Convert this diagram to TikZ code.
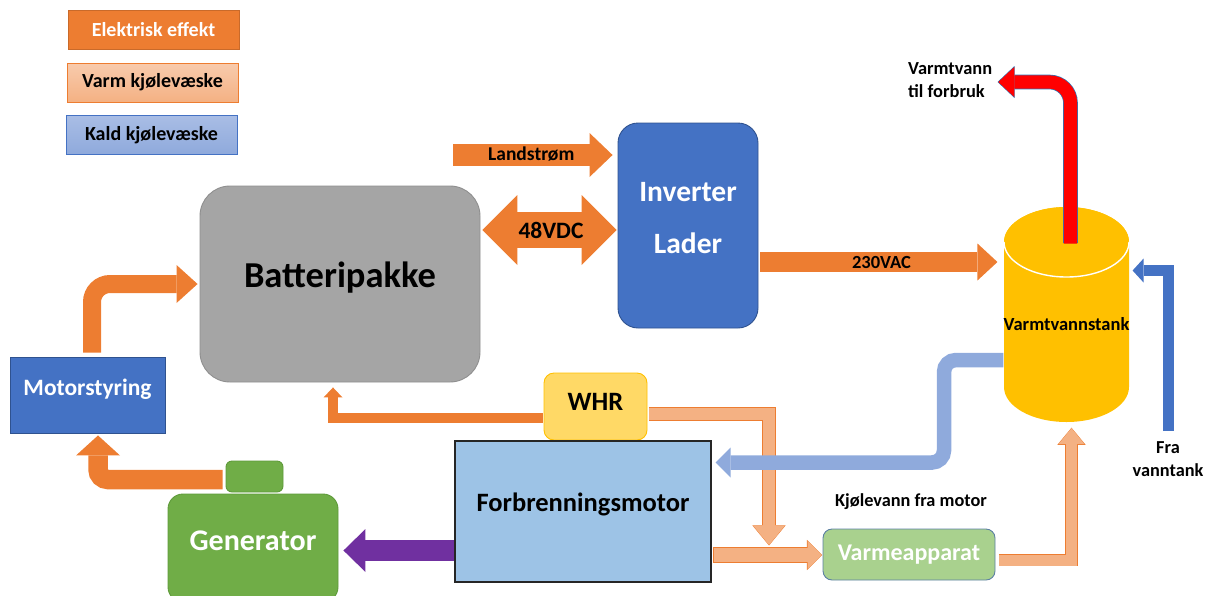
\documentclass[tikz,border=0pt]{standalone}
\usepackage{fontspec}
\setmainfont{Carlito}
\usetikzlibrary{arrows.meta,calc}

\definecolor{elorange}{HTML}{ED7D31}
\definecolor{salmon}{HTML}{F4B183}
\definecolor{salmonlight}{HTML}{F8CBAD}
\definecolor{coldblue}{HTML}{8FAADC}
\definecolor{coldblight}{HTML}{A9BDE5}
\definecolor{accblue}{HTML}{4472C4}
\definecolor{darkblue}{HTML}{2F528F}
\definecolor{batgray}{HTML}{A5A5A5}
\definecolor{batedge}{HTML}{8F8F8F}
\definecolor{tankyellow}{HTML}{FFC000}
\definecolor{whrfill}{HTML}{FFD966}
\definecolor{gengreen}{HTML}{70AD47}
\definecolor{genedge}{HTML}{5E9A3A}
\definecolor{heatgreen}{HTML}{A9D18E}
\definecolor{heatedge}{HTML}{5B7FA3}
\definecolor{motorblue}{HTML}{9DC3E6}
\definecolor{drivepurple}{HTML}{7030A0}
\definecolor{hotred}{HTML}{FF0000}
\definecolor{hotedge}{HTML}{2E75B6}

% bold Carlito at a given size and line spacing
\newcommand\dfont[2]{\fontsize{#1}{#2}\selectfont\bfseries}
% text line of zero size whose baseline sits #1 below the reference point
\newcommand\bl[2]{\raisebox{#1}[0pt][0pt]{#2}}

\tikzset{
  box/.style={inner sep=0pt, align=center, line width=0.9pt},
  legendbox/.style={box, minimum width=171pt, minimum height=39pt, font=\dfont{20}{23}},
  lbl/.style={inner sep=0pt, align=center},
  % thick line with a triangular head: body width, head width, head length
  flow/.style n args={3}{line width=#1pt, -{Triangle[width=#2pt,length=#3pt,line width=0pt]}},
  flowboth/.style n args={3}{line width=#1pt, {Triangle[width=#2pt,length=#3pt,line width=0pt]}-{Triangle[width=#2pt,length=#3pt,line width=0pt]}},
}

\begin{document}
\begin{tikzpicture}[x=1pt,y=-1pt]
\useasboundingbox (0,0) rectangle (1212,595);

% ---------- legend ----------
\node[legendbox, fill=elorange, draw=elorange!85!black, text=white] (legel) at (153.5,29.5) {\bl{-6.5pt}{Elektrisk effekt}};
\node[legendbox, top color=salmonlight, bottom color=salmon, draw=elorange] (legwarm) at (152.5,82.5) {\bl{-5pt}{Varm kjølevæske}};
\node[legendbox, top color=coldblight, bottom color=coldblue, draw=accblue] (legcold) at (151.5,134.5) {\bl{-6.2pt}{Kald kjølevæske}};

% ---------- components ----------
\node[box, fill=batgray, draw=batedge, rounded corners=30pt, minimum width=280pt, minimum height=196pt,
      font=\dfont{36.5}{40}] (bat) at (340,284) {\bl{-3.5pt}{Batteripakke}};
\node[box, fill=accblue, draw=darkblue, rounded corners=20pt, minimum width=140pt, minimum height=205pt,
      text=white, font=\dfont{29.5}{52.3}] (inv) at (688,225.5) {\bl{-2.3pt}{Inverter}\\\bl{-2.3pt}{Lader}};
\node[box, fill=accblue, draw=darkblue, minimum width=155pt, minimum height=76pt,
      text=white, font=\dfont{23.5}{27}] (mstyr) at (87.5,395) {\bl{0pt}{Motorstyring}};
\node[box, fill=whrfill, draw=tankyellow, rounded corners=10pt, minimum width=103pt, minimum height=67pt,
      font=\dfont{26.5}{30}] (whr) at (595.5,406.5) {\bl{-3.5pt}{WHR}};
\node[box, fill=motorblue, draw=black!85, line width=1.2pt, minimum width=256pt, minimum height=141pt,
      font=\dfont{26.5}{30}] (motor) at (583,511.5) {\bl{0pt}{Forbrenningsmotor}};
\node[box, fill=heatgreen, draw=heatedge, rounded corners=9pt, minimum width=172pt, minimum height=51pt,
      text=white, font=\dfont{24}{27}] (heater) at (909,554.5) {\bl{-5.5pt}{Varmeapparat}};
\node[box, fill=gengreen, draw=genedge, rounded corners=6pt, minimum width=57pt, minimum height=31pt] (gentop) at (254.5,476.5) {};
\node[box, fill=gengreen, draw=genedge, rounded corners=15pt, minimum width=170pt, minimum height=108pt,
      text=white, font=\dfont{30}{34}] (gen) at (253,548) {\bl{-2pt}{Generator}};

% hot water tank (cylinder)
\fill[tankyellow] (1004,242) -- (1004,387) arc[start angle=180, end angle=360, x radius=62.5pt, y radius=35pt]
      -- (1129,242) arc[start angle=0, end angle=180, x radius=62.5pt, y radius=35pt] -- cycle;
\fill[tankyellow] (1066.5,242) ellipse[x radius=62.5pt, y radius=35pt];
\draw[white, line width=1.4pt] (1004,242) arc[start angle=180, end angle=360, x radius=62.5pt, y radius=35pt];
\node[inner sep=0pt, minimum width=125pt, minimum height=215pt, font=\dfont{18.5}{22}] (tank) at (1066.5,314.5)
      {\bl{-15.5pt}{Varmtvannstank}};

% ---------- electric power ----------
\coordinate (shore) at (453,155);
\draw[flow={22}{44}{23}, elorange] (shore) -- ($(inv.west |- shore)+(-5,0)$)
      node[midway, xshift=-1.5pt, inner sep=0pt, font=\dfont{19.5}{22}, text=black] (shorelbl) {\bl{-5.7pt}{Landstrøm}};
\draw[flowboth={36}{70}{35}, elorange] ($(bat.east |- 0,230)+(2,0)$) -- ($(inv.west |- 0,230)+(-1,0)$)
      node[midway, xshift=1.5pt, inner sep=0pt, font=\dfont{23.5}{27}, text=black] (dclbl) {\bl{-8.3pt}{48VDC}};
\draw[flow={20}{37}{20}, elorange] ($(inv.east |- 0,262)+(2,0)$) -- ($(tank.west |- 0,262)+(-6,0)$)
      node[midway, xshift=2.5pt, inner sep=0pt, font=\dfont{18.5}{22}, text=black] (aclbl) {\bl{-6.3pt}{230VAC}};
\draw[flow={18}{38}{21}, elorange, rounded corners=18pt] ($(mstyr.north)+(4.5,-4)$) -- (92,284) -- ($(bat.west |- 0,284)+(-2,0)$);
\draw[flow={19.5}{44}{20}, elorange, rounded corners=10pt] ($(gentop.west)+(-3,3)$) -- (98,479.5) -- ($(mstyr.south)+(10.5,2)$);
\draw[flow={10}{19}{10}, elorange] ($(whr.west |- 0,418)+(-1,0)$) -- (333,418) -- ($(bat.south)+(-7,5)$);

% ---------- warm coolant ----------
\draw[line width=13.4pt, elorange, -{Triangle[width=33.4pt,length=20.2pt,line width=0pt]}]
      ($(whr.east |- 0,414)+(1.5,0)$) -- (769,414) -- (769,545.5);
\draw[flow={12}{31}{19}, salmon] ($(whr.east |- 0,414)+(2,0)$) -- (769,414) -- (769,545);
\draw[line width=15.4pt, elorange, -{Triangle[width=30.4pt,length=15.2pt,line width=0pt]}]
      ($(motor.east |- 0,555)+(1.5,0)$) -- ($(heater.west |- 0,555)+(-0.5,0)$);
\draw[flow={14}{28}{14}, salmon] ($(motor.east |- 0,555)+(2,0)$) -- ($(heater.west |- 0,555)+(-1,0)$);
\draw[line width=12.4pt, elorange, -{Triangle[width=28.4pt,length=17.2pt,line width=0pt]}]
      ($(heater.east |- 0,560)+(3.5,0)$) -- (1071.5,560) -- ($(tank.south)+(5,5.5)$);
\draw[flow={11}{26}{16}, salmon] ($(heater.east |- 0,560)+(4,0)$) -- (1071.5,560) -- ($(tank.south)+(5,6)$);

% ---------- cold coolant / water ----------
\draw[flow={14.5}{30}{15}, coldblue, rounded corners=12pt] (tank.west |- 0,360) -- (944,360) -- (944,462.5)
      -- ($(motor.east |- 0,462.5)+(4,0)$);
\draw[flow={11}{24}{11}, accblue] (1168.5,431) -- (1168.5,270.5) -- ($(tank.east |- 0,270.5)+(3,0)$);
\node[lbl, font=\dfont{18.3}{23.4}] (fromtank) at (1168,465) {\bl{0pt}{Fra}\\\bl{0pt}{vanntank}};

% ---------- hot water out ----------
\draw[line width=14.6pt, hotedge, rounded corners=21pt, -{Triangle[width=32pt,length=17pt,line width=0pt]}]
      (1070.5,243) -- (1070.5,82) -- (997.5,82);
\draw[line width=13.2pt, hotred, rounded corners=21pt, -{Triangle[width=30pt,length=16pt,line width=0pt]}]
      (1070.5,243.7) -- (1070.5,82) -- (998.3,82);
\node[lbl, align=left, anchor=west, font=\dfont{18.4}{22.7}] (hotlbl) at (908,86.3) {\bl{0pt}{Varmtvann}\\\bl{0pt}{til forbruk}};

% ---------- mechanical drive ----------
\draw[flow={21}{43}{22}, drivepurple] (motor.west |- 0,550.5) -- ($(gen.east |- 0,550.5)+(5,0)$);

% ---------- text ----------
\node[lbl, font=\dfont{18.3}{22}] (coolantlbl) at (911,506) {\bl{0pt}{Kjølevann fra motor}};
\end{tikzpicture}
\end{document}
